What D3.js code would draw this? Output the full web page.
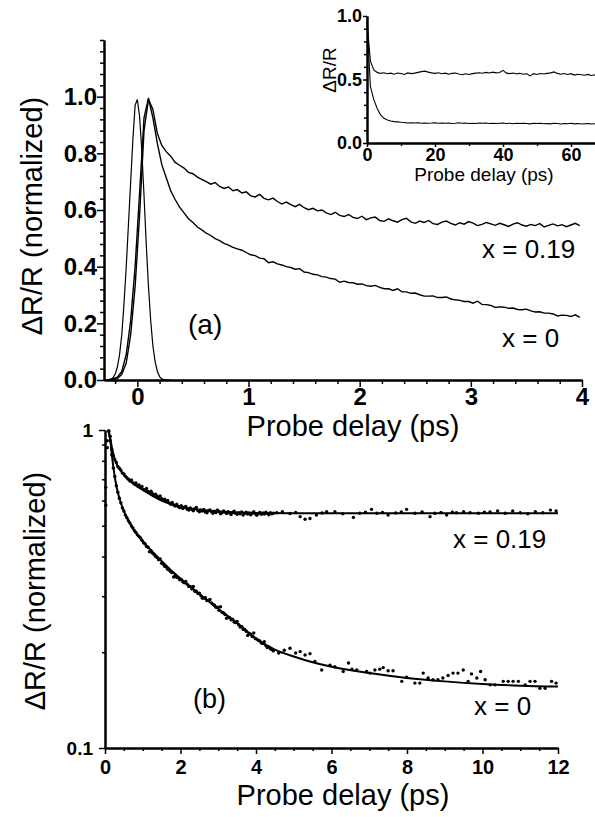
<!DOCTYPE html>
<html>
<head>
<meta charset="utf-8">
<script src="https://cdn.jsdelivr.net/npm/d3@7"></script>
<style>
  body { margin: 0; background: #fff; }
  svg { display: block; }
  text { font-family: "Liberation Sans", Arial, sans-serif; }
</style>
</head>
<body>
<svg id="chart"></svg>
<script>
var width = 595;
var height = 817;

// panel (a): measured traces, 0.04 ps grid starting at -0.30 ps
var delayStartA = -0.30;
var delayStepA = 0.04;

var traceX019 = [0.000, 0.001, 0.002, 0.005, 0.020, 0.060, 0.160, 0.330, 0.580, 0.880, 0.990, 0.955,
    0.870, 0.828, 0.806, 0.790, 0.768, 0.758, 0.748, 0.733, 0.728, 0.716,
    0.708, 0.700, 0.691, 0.697, 0.683, 0.676, 0.681, 0.668, 0.672, 0.660,
    0.664, 0.650, 0.646, 0.655, 0.641, 0.636, 0.642, 0.630, 0.621, 0.628,
    0.619, 0.612, 0.620, 0.608, 0.601, 0.606, 0.597, 0.600, 0.590, 0.584,
    0.592, 0.581, 0.577, 0.584, 0.574, 0.570, 0.578, 0.566, 0.572, 0.575,
    0.563, 0.560, 0.569, 0.562, 0.557, 0.566, 0.571, 0.558, 0.553, 0.561,
    0.556, 0.563, 0.552, 0.549, 0.557, 0.561, 0.553, 0.547, 0.555, 0.550,
    0.559, 0.554, 0.545, 0.549, 0.556, 0.551, 0.546, 0.553, 0.548, 0.542,
    0.550, 0.555, 0.547, 0.543, 0.549, 0.545, 0.552, 0.540, 0.546, 0.551,
    0.544, 0.548, 0.541, 0.547, 0.553, 0.545, 0.539, 0.546, 0.550, 0.543,
    0.548, 0.544, 0.551, 0.546, 0.541, 0.549, 0.545, 0.547];

var traceX0 = [0.000, 0.001, 0.004, 0.010, 0.030, 0.090, 0.210, 0.400, 0.660, 0.925,
    0.995, 0.925, 0.835, 0.760, 0.714, 0.668, 0.637, 0.610, 0.590, 0.569,
    0.556, 0.540, 0.530, 0.518, 0.510, 0.499, 0.492, 0.482, 0.476, 0.468,
    0.463, 0.458, 0.450, 0.442, 0.439, 0.430, 0.428, 0.414, 0.417, 0.410,
    0.406, 0.400, 0.397, 0.391, 0.393, 0.381, 0.379, 0.373, 0.371, 0.365,
    0.363, 0.358, 0.356, 0.345, 0.349, 0.344, 0.343, 0.338, 0.339, 0.333,
    0.331, 0.334, 0.327, 0.322, 0.322, 0.316, 0.322, 0.311, 0.311, 0.306,
    0.307, 0.301, 0.296, 0.296, 0.297, 0.291, 0.291, 0.293, 0.286, 0.283,
    0.281, 0.277, 0.277, 0.271, 0.278, 0.267, 0.266, 0.263, 0.256, 0.258,
    0.257, 0.253, 0.254, 0.249, 0.248, 0.250, 0.244, 0.240, 0.241, 0.236,
    0.236, 0.233, 0.226, 0.229, 0.228, 0.224, 0.230, 0.221, 0.220, 0.218,
    0.217, 0.214, 0.213, 0.216, 0.210, 0.207, 0.208, 0.205, 0.204, 0.202];

// pump-probe cross-correlation, 0.02 ps grid starting at -0.30 ps
var pulseStart = -0.30;
var pulseStep = 0.02;
var pulse = [0, 0, 0.001, 0.002, 0.008, 0.020, 0.045, 0.090, 0.160, 0.270, 0.400,
    0.550, 0.700, 0.850, 0.970, 0.990, 0.930, 0.810, 0.650, 0.480, 0.330,
    0.210, 0.120, 0.065, 0.030, 0.012, 0.004, 0.001, 0, 0, 0];

// inset: long scan, 1 ps grid from 0 to 70 ps
var insetStep = 1;
var insetX019 = [0.960, 0.645, 0.575, 0.556, 0.548, 0.553, 0.545, 0.550, 0.542, 0.551,
    0.547, 0.540, 0.552, 0.546, 0.550, 0.556, 0.562, 0.566, 0.558, 0.552,
    0.548, 0.553, 0.545, 0.550, 0.542, 0.548, 0.551, 0.543, 0.538, 0.545,
    0.540, 0.546, 0.550, 0.553, 0.549, 0.556, 0.551, 0.558, 0.552, 0.555,
    0.572, 0.550, 0.546, 0.551, 0.544, 0.549, 0.541, 0.545, 0.528, 0.546,
    0.540, 0.547, 0.543, 0.548, 0.552, 0.560, 0.548, 0.542, 0.547, 0.540,
    0.546, 0.535, 0.541, 0.538, 0.534, 0.540, 0.532, 0.537, 0.530, 0.533,
    0.528];
var insetX0 = [0.970, 0.445, 0.341, 0.272, 0.221, 0.194, 0.181, 0.173, 0.168, 0.166,
    0.163, 0.161, 0.158, 0.160, 0.157, 0.159, 0.156, 0.158, 0.155, 0.157,
    0.160, 0.156, 0.158, 0.155, 0.157, 0.154, 0.156, 0.159, 0.155, 0.157,
    0.154, 0.156, 0.153, 0.157, 0.155, 0.158, 0.154, 0.156, 0.153, 0.155,
    0.157, 0.154, 0.156, 0.152, 0.155, 0.153, 0.156, 0.154, 0.151, 0.155,
    0.153, 0.156, 0.152, 0.154, 0.151, 0.155, 0.153, 0.150, 0.154, 0.152,
    0.155, 0.151, 0.153, 0.150, 0.152, 0.154, 0.150, 0.152, 0.149, 0.151,
    0.150];

// panel (b): sparser points after the dense scan [delay ps, dR/R]
var tailX019 = [[4.55, 0.549], [4.7, 0.553], [4.9, 0.546], [5.05, 0.550], [5.17, 0.534], [5.3, 0.524],
    [5.43, 0.527], [5.6, 0.540], [5.75, 0.548], [5.87, 0.553], [6.09, 0.553], [6.3, 0.545],
    [6.58, 0.531], [6.75, 0.547], [6.9, 0.551], [7.06, 0.563], [7.2, 0.547], [7.35, 0.550],
    [7.5, 0.540], [7.7, 0.548], [7.85, 0.552], [7.99, 0.563], [8.21, 0.547], [8.4, 0.552],
    [8.61, 0.534], [8.74, 0.547], [8.9, 0.550], [9.05, 0.540], [9.2, 0.551], [9.31, 0.549],
    [9.5, 0.553], [9.67, 0.549], [9.89, 0.547], [10.05, 0.551], [10.2, 0.552], [10.4, 0.556],
    [10.6, 0.547], [10.8, 0.556], [11.0, 0.549], [11.2, 0.545], [11.4, 0.553], [11.6, 0.549],
    [11.8, 0.560], [11.95, 0.556]];
var tailX0 = [[4.6, 0.199], [4.75, 0.203], [4.9, 0.206], [5.05, 0.199], [5.17, 0.201], [5.3, 0.196],
    [5.43, 0.198], [5.56, 0.187], [5.74, 0.176], [5.96, 0.182], [6.09, 0.180], [6.31, 0.174],
    [6.45, 0.185], [6.54, 0.177], [6.67, 0.176], [6.93, 0.174], [7.02, 0.172], [7.15, 0.176],
    [7.28, 0.177], [7.37, 0.179], [7.5, 0.175], [7.63, 0.175], [7.86, 0.162], [7.99, 0.167],
    [8.21, 0.160], [8.34, 0.160], [8.43, 0.172], [8.56, 0.166], [8.69, 0.164], [8.82, 0.164],
    [8.95, 0.166], [9.09, 0.169], [9.22, 0.172], [9.35, 0.172], [9.49, 0.176], [9.62, 0.162],
    [9.71, 0.171], [9.85, 0.166], [9.95, 0.174], [10.07, 0.164], [10.2, 0.158], [10.33, 0.158],
    [10.55, 0.162], [10.68, 0.162], [10.81, 0.162], [10.95, 0.162], [11.13, 0.158], [11.26, 0.162],
    [11.39, 0.162], [11.52, 0.154], [11.66, 0.154], [11.83, 0.162], [11.95, 0.160]];

// panel (b): fitted curves
var fitDelay019 = [0.10, 0.14, 0.20, 0.30, 0.40, 0.50, 0.75, 1.0, 1.25, 1.5, 1.75, 2.0, 2.5, 3.0, 3.5, 4.0, 5.0, 6.0, 8.0, 10.0, 12.0];
var fitX019 = [0.990, 0.940, 0.860, 0.785, 0.750, 0.722, 0.678, 0.648, 0.622, 0.600, 0.585, 0.574, 0.561, 0.554, 0.550, 0.548, 0.547, 0.547, 0.547, 0.547, 0.547];
var fitDelay0 = [0.10, 0.14, 0.20, 0.30, 0.40, 0.50, 0.60, 0.80, 1.0, 1.25, 1.5, 1.75, 2.0, 2.5, 3.0, 3.5, 4.0, 4.5, 5.0, 5.5, 6.0, 7.0, 8.0, 9.0, 10.0, 11.0, 12.0];
var fitX0 = [0.990, 0.925, 0.800, 0.668, 0.600, 0.556, 0.525, 0.478, 0.446, 0.415, 0.387, 0.362, 0.341, 0.305, 0.274, 0.247, 0.221, 0.204, 0.194, 0.186, 0.180, 0.172, 0.166, 0.162, 0.159, 0.157, 0.156];

// tick values
var ticksAx = [0, 1, 2, 3, 4];
var minorAx = [-0.2, 0.2, 0.4, 0.6, 0.8, 1.2, 1.4, 1.6, 1.8, 2.2, 2.4, 2.6, 2.8, 3.2, 3.4, 3.6, 3.8];
var ticksAy = [0, 0.2, 0.4, 0.6, 0.8, 1.0];
var minorAy = [0.04, 0.08, 0.12, 0.16, 0.24, 0.28, 0.32, 0.36, 0.44, 0.48, 0.52, 0.56, 0.64, 0.68, 0.72, 0.76, 0.84, 0.88, 0.92, 0.96, 1.04, 1.08, 1.12, 1.16, 1.2];
var ticksIx = [0, 20, 40, 60];
var minorIx = [10, 30, 50, 70];
var ticksIy = [0, 0.5, 1.0];
var minorIy = [0.1, 0.2, 0.3, 0.4, 0.6, 0.7, 0.8, 0.9];
var ticksBx = [0, 2, 4, 6, 8, 10, 12];
var minorBx = [0.5, 1, 1.5, 2.5, 3, 3.5, 4.5, 5, 5.5, 6.5, 7, 7.5, 8.5, 9, 9.5, 10.5, 11, 11.5];
var ticksBy = [0.1, 1];
var minorBy = [0.2, 0.3, 0.4, 0.5, 0.6, 0.7, 0.8, 0.9];

function gridPoints(values, start, step) {
    return values.map(function (v, i) {
        return { t: start + i * step, v: v };
    });
}

var svg = d3.select("#chart").attr("width", width).attr("height", height);
svg.append("rect").attr("width", width).attr("height", height).attr("fill", "#fff");

function styleAxis(g, size) {
    g.attr("font-family", "'Liberation Sans', Arial, sans-serif")
        .attr("font-size", size)
        .attr("font-weight", "bold");
    g.selectAll("line").attr("stroke", "#000").attr("stroke-width", 1.5);
    g.selectAll("text").attr("fill", "#000");
    g.select(".domain").attr("stroke", "#000").attr("stroke-width", 2);
}

// ---------- panel (a) ----------
var xA = d3.scaleLinear().domain([-0.3, 4]).range([104, 582]);
var yA = d3.scaleLinear().domain([0, 1.2]).range([380, 40]);

svg.append("g").attr("transform", "translate(0,380)")
    .call(d3.axisBottom(xA).tickValues(minorAx).tickSize(4).tickFormat("").tickSizeOuter(0))
    .call(styleAxis, 24);
svg.append("g").attr("transform", "translate(0,380)")
    .call(d3.axisBottom(xA).tickValues(ticksAx).tickSize(7).tickPadding(1).tickFormat(d3.format("d")).tickSizeOuter(0))
    .call(styleAxis, 24);
svg.append("g").attr("transform", "translate(104,0)")
    .call(d3.axisLeft(yA).tickValues(minorAy).tickSize(4).tickFormat("").tickSizeOuter(0))
    .call(styleAxis, 24);
svg.append("g").attr("transform", "translate(104,0)")
    .call(d3.axisLeft(yA).tickValues(ticksAy).tickSize(7).tickPadding(0).tickFormat(d3.format(".1f")).tickSizeOuter(0))
    .call(styleAxis, 24);

var lineA = d3.line()
    .x(function (d) { return xA(d.t); })
    .y(function (d) { return yA(d.v); });

var inA = function (d) { return d.t <= 4.0001; };

svg.append("path").datum(gridPoints(pulse, pulseStart, pulseStep))
    .attr("d", lineA).attr("fill", "none").attr("stroke", "#000").attr("stroke-width", 1.2);
svg.append("path").datum(gridPoints(traceX0, delayStartA, delayStepA).filter(inA))
    .attr("d", lineA).attr("fill", "none").attr("stroke", "#000").attr("stroke-width", 1.4);
svg.append("path").datum(gridPoints(traceX019, delayStartA, delayStepA).filter(inA))
    .attr("d", lineA).attr("fill", "none").attr("stroke", "#000").attr("stroke-width", 1.4);

svg.append("text").attr("x", 353).attr("y", 436).attr("text-anchor", "middle")
    .attr("font-size", 29).text("Probe delay (ps)");
svg.append("text").attr("transform", "translate(42,216) rotate(-90)").attr("text-anchor", "middle")
    .attr("font-size", 29).text("ΔR/R (normalized)");
svg.append("text").attr("x", 188).attr("y", 334).attr("font-size", 28).text("(a)");
svg.append("text").attr("x", 482).attr("y", 258).attr("font-size", 26).text("x = 0.19");
svg.append("text").attr("x", 502).attr("y", 347).attr("font-size", 26).text("x = 0");

// ---------- inset ----------
var xI = d3.scaleLinear().domain([0, 70]).range([367, 605]);
var yI = d3.scaleLinear().domain([0, 1]).range([143, 16]);

svg.append("g").attr("transform", "translate(0,143)")
    .call(d3.axisBottom(xI).tickValues(minorIx).tickSize(3).tickFormat("").tickSizeOuter(0))
    .call(styleAxis, 18);
svg.append("g").attr("transform", "translate(0,143)")
    .call(d3.axisBottom(xI).tickValues(ticksIx).tickSize(4).tickPadding(1).tickFormat(d3.format("d")).tickSizeOuter(0))
    .call(styleAxis, 18);
svg.append("g").attr("transform", "translate(367,0)")
    .call(d3.axisLeft(yI).tickValues(minorIy).tickSize(3).tickFormat("").tickSizeOuter(0))
    .call(styleAxis, 18);
svg.append("g").attr("transform", "translate(367,0)")
    .call(d3.axisLeft(yI).tickValues(ticksIy).tickSize(4).tickPadding(1).tickFormat(d3.format(".1f")).tickSizeOuter(0))
    .call(styleAxis, 18);

var lineI = d3.line()
    .x(function (d) { return xI(d.t); })
    .y(function (d) { return yI(d.v); });

svg.append("path").datum(gridPoints(insetX0, 0, insetStep))
    .attr("d", lineI).attr("fill", "none").attr("stroke", "#000").attr("stroke-width", 1.1);
svg.append("path").datum(gridPoints(insetX019, 0, insetStep))
    .attr("d", lineI).attr("fill", "none").attr("stroke", "#000").attr("stroke-width", 1.1);

svg.append("text").attr("x", 484).attr("y", 181).attr("text-anchor", "middle")
    .attr("font-size", 19).text("Probe delay (ps)");
svg.append("text").attr("transform", "translate(336,70) rotate(-90)").attr("text-anchor", "middle")
    .attr("font-size", 19).text("ΔR/R");

// ---------- panel (b) ----------
var xB = d3.scaleLinear().domain([0, 12]).range([105, 558]);
var yB = d3.scaleLog().domain([0.1, 1]).range([748, 430]);

svg.append("g").attr("transform", "translate(0,748)")
    .call(d3.axisBottom(xB).tickValues(minorBx).tickSize(3).tickFormat("").tickSizeOuter(0))
    .call(styleAxis, 20);
svg.append("g").attr("transform", "translate(0,748)")
    .call(d3.axisBottom(xB).tickValues(ticksBx).tickSize(6).tickPadding(6).tickFormat(d3.format("d")).tickSizeOuter(0))
    .call(styleAxis, 20);
svg.append("g").attr("transform", "translate(105,0)")
    .call(d3.axisLeft(yB).tickValues(minorBy).tickSize(3).tickFormat("").tickSizeOuter(0))
    .call(styleAxis, 19);
svg.append("g").attr("transform", "translate(105,0)")
    .call(d3.axisLeft(yB).tickValues(ticksBy).tickSize(6).tickPadding(6).tickFormat(function (d) { return d === 1 ? "1" : "0.1"; }).tickSizeOuter(0))
    .call(styleAxis, 19);

var inB = function (d) { return d.t >= 0 && d.v >= 0.1; };
var tailPoints = function (arr) {
    return arr.map(function (p) { return { t: p[0], v: p[1] }; });
};
var dotsB = gridPoints(traceX019, delayStartA, delayStepA).filter(inB)
    .concat(tailPoints(tailX019))
    .concat(gridPoints(traceX0, delayStartA, delayStepA).filter(inB))
    .concat(tailPoints(tailX0));

svg.append("g").selectAll("circle")
    .data(dotsB)
    .enter()
    .append("circle")
    .attr("cx", function (d) { return xB(d.t); })
    .attr("cy", function (d) { return yB(d.v); })
    .attr("r", 1.7)
    .attr("fill", "#000");

var lineB = d3.line()
    .curve(d3.curveMonotoneX)
    .x(function (d) { return xB(d.t); })
    .y(function (d) { return yB(d.v); });

svg.append("path").datum(fitDelay019.map(function (t, i) { return { t: t, v: fitX019[i] }; }))
    .attr("d", lineB).attr("fill", "none").attr("stroke", "#000").attr("stroke-width", 2);
svg.append("path").datum(fitDelay0.map(function (t, i) { return { t: t, v: fitX0[i] }; }))
    .attr("d", lineB).attr("fill", "none").attr("stroke", "#000").attr("stroke-width", 2);

svg.append("text").attr("x", 343).attr("y", 805).attr("text-anchor", "middle")
    .attr("font-size", 29).text("Probe delay (ps)");
svg.append("text").attr("transform", "translate(45,591) rotate(-90)").attr("text-anchor", "middle")
    .attr("font-size", 29).text("ΔR/R (normalized)");
svg.append("text").attr("x", 193).attr("y", 708).attr("font-size", 27).text("(b)");
svg.append("text").attr("x", 453).attr("y", 548).attr("font-size", 26).text("x = 0.19");
svg.append("text").attr("x", 474).attr("y", 715).attr("font-size", 26).text("x = 0");
</script>
</body>
</html>
